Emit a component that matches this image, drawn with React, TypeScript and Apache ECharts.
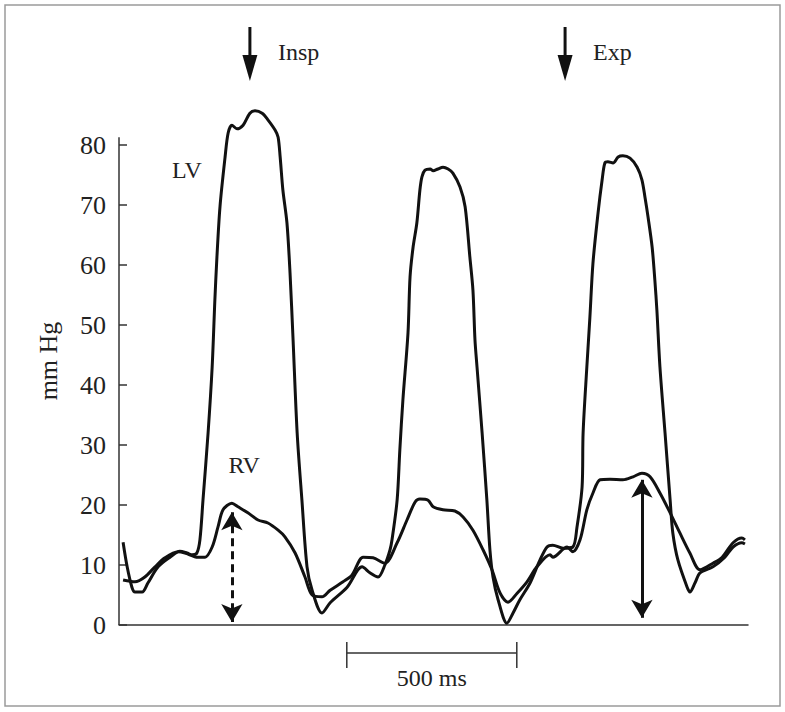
import React, { useEffect, useRef } from 'react';
import * as echarts from 'echarts';

// time (ms) , pressure (mm Hg)
const lvTrace: number[][] = [
  [12, 13.8], [24, 9.7], [38, 6.3], [47, 5.5], [68, 5.5], [85, 7], [115, 9.7], [150, 11.3], [179, 12.3],
  [200, 12], [215, 11.7], [229, 12], [238, 14.2], [247, 20.8], [262, 32], [274, 43], [282, 54.2],
  [288, 61.3], [297, 69.7], [312, 78], [321, 82], [332, 83.3], [347, 82.7], [365, 83.3], [385, 85.3],
  [400, 85.7], [421, 85.3], [438, 84.2], [459, 82.5], [468, 81.3], [474, 78], [482, 72.5], [494, 67],
  [503, 58.7], [512, 47.5], [524, 32], [538, 20.8], [553, 9.7], [568, 5.8], [597, 2], [621, 3.7],
  [671, 6.3], [715, 9.7], [738, 8.7], [762, 8], [782, 10], [797, 12.5], [803, 14.2], [818, 20.8],
  [826, 29.2], [835, 37.5], [850, 48.7], [856, 58], [865, 63], [876, 67], [885, 72.5], [891, 74.7],
  [900, 75.8], [915, 76], [924, 75.7], [938, 76], [953, 76.3], [968, 76], [982, 75.3], [1003, 73],
  [1018, 69.7], [1032, 61.3], [1041, 55.8], [1047, 47.5], [1053, 43], [1068, 32], [1082, 20.8],
  [1091, 12.5], [1100, 8], [1115, 4.2], [1141, 0.3], [1159, 2], [1179, 4.2], [1209, 7], [1238, 10.8],
  [1259, 13], [1276, 13.3], [1306, 12.8], [1335, 13], [1347, 16.3], [1362, 23], [1365, 32], [1376, 43],
  [1385, 51.3], [1394, 60.3], [1409, 68.7], [1421, 74.2], [1429, 77], [1438, 77.2], [1453, 77],
  [1468, 78], [1482, 78.2], [1503, 77.8], [1524, 76.3], [1538, 74.2], [1547, 71.3], [1556, 68],
  [1568, 63], [1576, 57.5], [1582, 52.5], [1591, 43], [1606, 32], [1621, 20.8], [1629, 15.3],
  [1644, 10.8], [1671, 6.3], [1679, 5.5], [1694, 7], [1709, 8.7], [1747, 9.7], [1782, 11.3],
  [1806, 13], [1832, 13.7], [1841, 13.5],
];

const rvTrace: number[][] = [
  [12, 7.5], [47, 7.2], [76, 8], [106, 9.7], [135, 11.2], [174, 12.2], [194, 12], [232, 11.3],
  [253, 11.3], [274, 13], [291, 16.3], [306, 19.2], [332, 20.3], [350, 19.7], [379, 18.7], [409, 17.5],
  [438, 17], [468, 15.8], [488, 14.7], [518, 12], [547, 8], [568, 5], [597, 4.7], [621, 5.8], [659, 7.2],
  [685, 8.3], [718, 11.3], [747, 11.2], [782, 10.3], [818, 13.7], [847, 17.5], [871, 20.5], [885, 21],
  [909, 20.8], [924, 19.7], [953, 19.2], [988, 19], [1012, 18], [1041, 15.8], [1071, 12.5], [1097, 9.2],
  [1121, 5.3], [1144, 3.8], [1171, 5.3], [1200, 7.2], [1229, 9.7], [1268, 11.7], [1276, 11.3],
  [1318, 13], [1335, 12.2], [1356, 14.2], [1376, 19.2], [1394, 22], [1415, 24.2], [1444, 24.3],
  [1482, 24.2], [1512, 24.7], [1538, 25.3], [1562, 24.7], [1591, 22], [1621, 18.7], [1650, 15.3],
  [1679, 12], [1709, 9.2], [1747, 10.3], [1774, 11.3], [1806, 13.7], [1832, 14.5], [1841, 14.2],
];

const yTicks = [0, 10, 20, 30, 40, 50, 60, 70, 80];
const yAxisTop = 81.3;
const traceLabels = [
  { text: 'LV', t: 200, p: 75.8 },
  { text: 'RV', t: 368, p: 26.7 },
];
const respMarks = [
  { text: 'Insp', t: 385 },
  { text: 'Exp', t: 1312 },
];
const pressureArrows = [
  { t: 332, top: 18.8, bottom: 0.5, dashed: true },
  { t: 1538, top: 24.2, bottom: 1.2, dashed: false },
];
const scaleBar = { start: 670, end: 1170, label: '500 ms' };

const FONT = 'Liberation Serif';
const INK = '#111';
const AXIS = '#333';

export default function App() {
  const ref = useRef<HTMLDivElement>(null);
  useEffect(() => {
    const chart = echarts.init(ref.current!, null, { renderer: 'svg' });
    const lineSeries = (name: string, data: number[][], extra: any = {}) => ({
      name,
      type: 'line',
      data,
      showSymbol: false,
      smooth: 0.3,
      clip: false,
      lineStyle: { color: INK, width: 3 },
      itemStyle: { color: INK },
      ...extra,
    });
    chart.setOption({
      animation: false,
      textStyle: { fontFamily: FONT },
      grid: { left: 119, right: 37, top: 97, bottom: 87 },
      xAxis: {
        type: 'value', min: 0, max: 1850,
        axisLine: { show: true, onZero: false, lineStyle: { color: AXIS, width: 1.5 } },
        axisTick: { show: false }, axisLabel: { show: false }, splitLine: { show: false },
      },
      yAxis: {
        type: 'value', min: 0, max: 88,
        name: 'mm Hg', nameLocation: 'middle', nameGap: 58,
        nameTextStyle: { fontFamily: FONT, fontSize: 26, color: '#222' },
        axisLine: { show: false },
        axisTick: { show: true, inside: true, length: 8, customValues: yTicks, lineStyle: { color: AXIS, width: 1.5 } },
        axisLabel: { customValues: yTicks, margin: 13, fontFamily: FONT, fontSize: 26, color: '#222' },
        splitLine: { show: false },
      },
      series: [
        lineSeries('LV', lvTrace),
        lineSeries('RV', rvTrace, {
          markLine: {
            silent: true,
            symbol: ['arrow', 'arrow'],
            symbolSize: [16, 18],
            label: { show: false },
            data: pressureArrows.map((a) => [
              { coord: [a.t, a.top], lineStyle: { type: a.dashed ? [8, 5] : 'solid', color: INK, width: 3 } },
              { coord: [a.t, a.bottom] },
            ]),
          },
        }),
      ],
    });

    const px = (t: number, p: number) => chart.convertToPixel({ gridIndex: 0 }, [t, p]) as number[];
    const graphics: any[] = [];
    graphics.push({
      type: 'rect', shape: { x: 5, y: 5, width: 775, height: 701 },
      style: { fill: 'none', stroke: '#9a9a9a', lineWidth: 1.5 }, silent: true,
    });
    const [ax, ayTop] = px(0, yAxisTop);
    const ayBottom = px(0, 0)[1];
    graphics.push({ type: 'line', shape: { x1: ax, y1: ayTop, x2: ax, y2: ayBottom }, style: { stroke: AXIS, lineWidth: 1.5 } });
    respMarks.forEach((m) => {
      const x = px(m.t, 0)[0];
      graphics.push({ type: 'line', shape: { x1: x, y1: 27, x2: x, y2: 62 }, style: { stroke: INK, lineWidth: 3 } });
      graphics.push({ type: 'polygon', shape: { points: [[x - 7.5, 55], [x + 7.5, 55], [x, 81]] }, style: { fill: INK } });
      graphics.push({
        type: 'text', x: x + 28, y: 52,
        style: { text: m.text, fontFamily: FONT, fontSize: 24, fill: '#222', textAlign: 'left', textVerticalAlign: 'middle' },
      });
    });
    traceLabels.forEach((l) => {
      const [x, y] = px(l.t, l.p);
      graphics.push({
        type: 'text', x, y,
        style: { text: l.text, fontFamily: FONT, fontSize: 24, fill: '#222', textAlign: 'center', textVerticalAlign: 'middle' },
      });
    });
    const x1 = px(scaleBar.start, 0)[0];
    const x2 = px(scaleBar.end, 0)[0];
    graphics.push({ type: 'line', shape: { x1, y1: 653, x2, y2: 653 }, style: { stroke: AXIS, lineWidth: 1.5 } });
    graphics.push({ type: 'line', shape: { x1, y1: 642, x2: x1, y2: 668 }, style: { stroke: AXIS, lineWidth: 1.5 } });
    graphics.push({ type: 'line', shape: { x1: x2, y1: 642, x2, y2: 668 }, style: { stroke: AXIS, lineWidth: 1.5 } });
    graphics.push({
      type: 'text', x: (x1 + x2) / 2, y: 678,
      style: { text: scaleBar.label, fontFamily: FONT, fontSize: 24, fill: '#222', textAlign: 'center', textVerticalAlign: 'middle' },
    });
    chart.setOption({ graphic: graphics });

    return () => chart.dispose();
  }, []);

  return (
    <div
      ref={ref}
      style={{ position: 'fixed', left: 0, top: 0, width: 785, height: 712, background: '#fff' }}
    />
  );
}
